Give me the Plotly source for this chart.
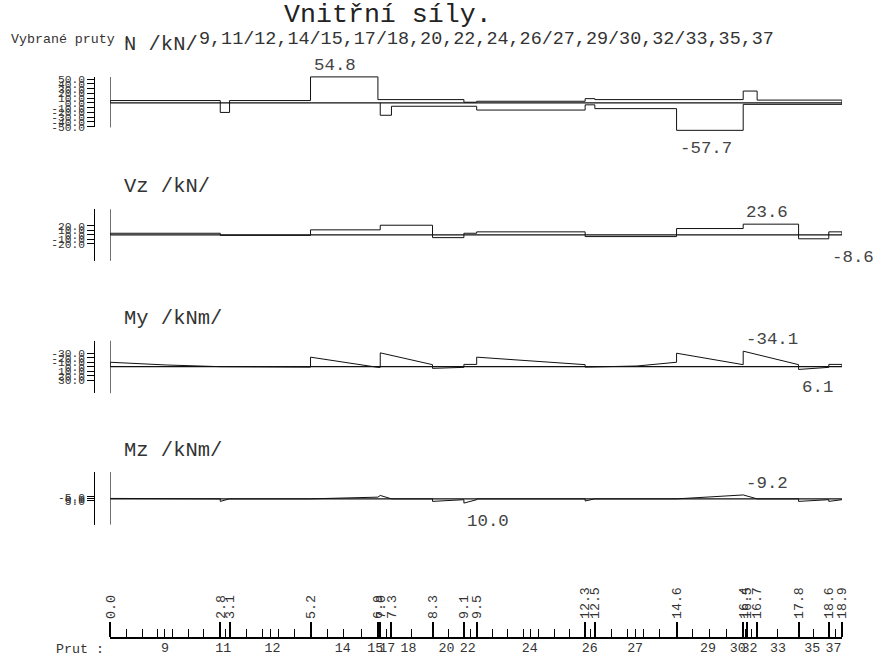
import plotly.graph_objects as go

# The captured picture is 873x656 while the page carries an 8px body margin, so the
# page region (873+16)x(656+16) is fitted into the picture.  All positions below are
# given in picture pixels and converted to figure coordinates.
PIC_W, PIC_H = 873, 656
MARG = 8
KX = PIC_W / (PIC_W + 2 * MARG)
KY = PIC_H / (PIC_H + 2 * MARG)
W, H = PIC_W + MARG, PIC_H + MARG
MONO = "Liberation Mono, Courier New, monospace"

# ---------------- data ----------------
# stations along the member chain [m] and their labels
stations = [0.0, 2.84, 3.08, 5.17, 6.91, 6.97, 7.26, 8.32, 9.13, 9.46, 12.26,
            12.51, 14.62, 16.34, 16.44, 16.70, 17.77, 18.55, 18.89]
station_labels = ["0.0", "2.8", "3.1", "5.2", "6.9", "7.0", "7.3", "8.3", "9.1", "9.5",
                  "12.3", "12.5", "14.6", "16.4", "16.5", "16.7", "17.8", "18.6", "18.9"]
# intermediate section points [m]
section_points = [0.41, 0.82, 1.21, 1.41, 1.62, 2.02, 2.42, 2.97, 3.51, 3.92, 4.13, 4.34,
                  4.76, 5.62, 6.03, 6.48, 7.13, 7.79, 8.74, 9.29, 9.86, 10.26, 10.66,
                  10.86, 11.06, 11.46, 11.86, 12.39, 12.93, 13.35, 13.56, 13.77, 14.19,
                  15.04, 15.48, 15.92, 16.39, 16.56, 17.23, 18.16, 18.72]
# member numbers and their positions [m]
members = ["9", "11", "12", "14", "15", "17", "18", "20", "22", "24", "26", "27",
           "29", "30", "32", "33", "35", "37"]
member_pos = [1.41, 2.92, 4.19, 6.0, 6.84, 7.15, 7.7, 8.68, 9.23, 10.83, 12.38, 13.55,
              15.43, 16.2, 16.5, 17.24, 18.12, 18.67]

# N /kN/ (two overlapping diagrams)
N_up_x = [0, 0, 2.84, 2.84, 3.08, 3.08, 5.17, 5.17, 6.91, 6.91, 9.13, 9.13, 9.46, 9.46,
          12.26, 12.26, 12.51, 12.51, 16.34, 16.34, 16.70, 16.70, 18.89, 18.89]
N_up_y = [0, 5, 5, -20, -20, 5, 5, 54.8, 54.8, 7, 7, 1.5, 1.5, 3.5, 3.5, 9, 9, 7, 7,
          25, 25, 6, 6, 0]
N_lo_x = [6.97, 6.97, 7.26, 7.26, 9.46, 9.46, 12.26, 12.26, 12.51, 12.51, 14.62, 14.62,
          16.34, 16.34, 18.89, 18.89]
N_lo_y = [0, -26, -26, -7, -7, -15, -15, -4, -4, -12, -12, -57.7, -57.7, -3, -3, 0]

# Vz /kN/
Vz_x = [0, 0, 2.84, 2.84, 5.17, 5.17, 6.97, 6.97, 8.32, 8.32, 9.13, 9.13, 9.46, 9.46,
        12.26, 12.26, 14.62, 14.62, 16.34, 16.34, 17.77, 17.77, 18.55, 18.55, 18.89, 18.89]
Vz_y = [0, 3.6, 3.6, -1, -1, 11.1, 11.1, 21.3, 21.3, -6, -6, 3.6, 3.6, 6.7, 6.7, -3.7,
        -3.7, 14, 14, 23.6, 23.6, -8.6, -8.6, 6.7, 6.7, 0]

# My /kNm/
My_x = [0, 0, 1.45, 2.84, 5.17, 5.17, 6.91, 6.97, 6.97, 8.32, 8.32, 9.13, 9.13, 9.46,
        9.46, 12.26, 12.26, 13.6, 14.62, 14.62, 16.34, 16.34, 17.77, 17.77, 18.55,
        18.55, 18.89, 18.89]
My_y = [0, -9.7, -3.7, 0, 1, -20.9, 1.5, 1.5, -30.4, -4.4, 3.7, 1.5, -5, -5, -20.9,
        -4.4, 1, -1.5, -9.7, -29.6, -4.4, -34.1, -4.4, 6.1, 1.5, -5, -5, 0]

# Mz /kNm/
Mz_x = [0, 2.84, 2.84, 3.08, 5.17, 6.91, 6.97, 7.26, 8.32, 8.32, 9.13, 9.13, 9.46,
        9.46, 12.26, 12.26, 12.51, 14.62, 15.2, 16.34, 16.70, 17.77, 17.77, 18.55,
        18.55, 18.89, 18.89]
Mz_y = [-1, 0, 6, 0, 0, -4, -8, 0, 0, 6, 2, 10, 2, 0, 0, 5, 0, 0, -3, -9.2, 0, 0, 6,
        2, 6, 2, 0]

# labelled extremes: (panel, x, value, side)
extremes = [("N", 5.17, 54.8, "up"), ("N", 14.62, -57.7, "down"),
            ("Vz", 16.34, 23.6, "up"), ("Vz", 18.55, -8.6, "down"),
            ("My", 16.34, -34.1, "up"), ("My", 17.77, 6.1, "down"),
            ("Mz", 16.34, -9.2, "up"), ("Mz", 9.13, 10.0, "down")]

# axis tick values per panel
N_ticks = [50, 40, 30, 20, 10, 0, -10, -20, -30, -40, -50]
Vz_ticks = [20, 10, 0, -10, -20]
My_ticks = [-30, -20, -10, 0, 10, 20, 30]
Mz_ticks = [-5, 0, 5]

# ---------------- layout geometry (picture pixels) ----------------
panels = {
    "N":  dict(title="N /kN/",   base=106.7, s=0.47, top=81,  bot=131, rev=False,
               ticks=N_ticks,  ty=49, ax="y",  dax="y5"),
    "Vz": dict(title="Vz /kN/",  base=237.3, s=0.45, top=212, bot=263, rev=False,
               ticks=Vz_ticks, ty=189, ax="y2", dax="y6"),
    "My": dict(title="My /kNm/", base=367.7, s=0.45, top=342, bot=394, rev=True,
               ticks=My_ticks, ty=320, ax="y3", dax="y7"),
    "Mz": dict(title="Mz /kNm/", base=498.5, s=0.42, top=472, bot=524, rev=True,
               ticks=Mz_ticks, ty=451, ax="y4", dax="y8"),
}
X0_PX, X1_PX = 111, 842
AXIS_Y_PX = 636
TOP_IMG = KY * MARG            # picture y of the figure's top edge
BOT_IMG = KY * (H + MARG)      # picture y of the figure's bottom edge


def px(x):
    return (x / KX - MARG) / W


def py(y):
    return 1 - (y / KY - MARG) / H


def fs(size):
    return size / KY


def value_range(p, top, bot):
    b, s = p["base"], p["s"]
    if p["rev"]:
        return [(bot - b) / s, (top - b) / s]
    return [(b - bot) / s, (b - top) / s]


fig = go.Figure()
LINE = dict(color="#111", width=1)

series = {"N": [(N_up_x, N_up_y), (N_lo_x, N_lo_y)],
          "Vz": [(Vz_x, Vz_y)], "My": [(My_x, My_y)], "Mz": [(Mz_x, Mz_y)]}

for key, p in panels.items():
    fig.add_trace(go.Scatter(x=[stations[0], stations[-1]], y=[0, 0], mode="lines",
                             line=dict(color="#111", width=1.2), yaxis=p["ax"],
                             showlegend=False, hoverinfo="skip"))
    for xs, ys in series[key]:
        fig.add_trace(go.Scatter(x=xs, y=ys, mode="lines", line=LINE, yaxis=p["ax"],
                                 showlegend=False, hoverinfo="skip"))
    fig.add_trace(go.Scatter(x=[None], y=[None], yaxis=p["dax"], showlegend=False,
                             hoverinfo="skip"))

fig.add_trace(go.Scatter(x=member_pos, y=[None] * len(member_pos), xaxis="x2",
                         showlegend=False, hoverinfo="skip"))

layout = dict(
    width=W, height=H, margin=dict(l=0, r=0, t=0, b=0),
    paper_bgcolor="white", plot_bgcolor="rgba(0,0,0,0)", showlegend=False,
    xaxis=dict(domain=[px(X0_PX), px(X1_PX)], range=[stations[0], stations[-1]],
               anchor="free", position=py(AXIS_Y_PX), side="top",
               showline=True, linecolor="black", linewidth=1.5,
               ticks="outside", ticklen=15.3, tickwidth=2, tickcolor="black",
               tickvals=stations, ticktext=station_labels, tickangle=-90,
               ticklabelstandoff=0,
               tickfont=dict(family=MONO, size=fs(13), color="#333"),
               minor=dict(tickvals=section_points, ticks="outside", ticklen=8.2,
                          tickwidth=1, tickcolor="black"),
               showgrid=False, zeroline=False, fixedrange=True),
    xaxis2=dict(overlaying="x", range=[stations[0], stations[-1]], anchor="free",
                position=py(AXIS_Y_PX), side="bottom", showline=False,
                ticks="", tickvals=member_pos, ticktext=members, tickangle=0,
                ticklabelstandoff=0,
                tickfont=dict(family=MONO, size=fs(13), color="#333"),
                showgrid=False, zeroline=False, fixedrange=True),
)

for key, p in panels.items():
    name = "yaxis" if p["ax"] == "y" else "yaxis" + p["ax"][1:]
    d = dict(range=value_range(p, TOP_IMG, BOT_IMG), visible=False, showgrid=False,
             zeroline=False, fixedrange=True)
    if p["ax"] == "y":
        d["domain"] = [0, 1]
    else:
        d["overlaying"] = "y"
    layout[name] = d
    dname = "yaxis" + p["dax"][1:]
    layout[dname] = dict(
        domain=[py(p["bot"]), py(p["top"])], range=value_range(p, p["top"], p["bot"]),
        anchor="free", position=px(95), side="left",
        showline=True, linecolor="black", linewidth=1,
        ticks="outside", ticklen=7, tickwidth=1, tickcolor="black",
        tickvals=p["ticks"], ticktext=[f"{v:.1f}" for v in p["ticks"]],
        tickfont=dict(family=MONO, size=fs(11), color="#333"),
        showgrid=False, zeroline=False, fixedrange=True)

fig.update_layout(**layout)

for key, p in panels.items():
    fig.add_shape(type="line", xref="x", x0=stations[0], x1=stations[0],
                  yref=p["dax"] + " domain", y0=0, y1=1,
                  line=dict(color="black", width=1))

ann = []
ann.append(dict(text="Vnitřní síly.", x=px(283), y=py(20), xref="paper", yref="paper",
                xanchor="left", yanchor="middle", showarrow=False,
                font=dict(family=MONO, size=fs(26), color="#222")))
ann.append(dict(text="Vybrané pruty :", x=px(10), y=py(44), xref="paper",
                yref="paper", xanchor="left", yanchor="middle", showarrow=False,
                font=dict(family=MONO, size=fs(13), color="#333")))
ann.append(dict(text="9,11/12,14/15,17/18,20,22,24,26/27,29/30,32/33,35,37",
                x=px(198), y=py(44), xref="paper", yref="paper", xanchor="left",
                yanchor="middle", showarrow=False,
                font=dict(family=MONO, size=fs(18), color="#333")))
for key, p in panels.items():
    ann.append(dict(text=p["title"], x=px(123), y=py(p["ty"]), xref="paper",
                    yref="paper", xanchor="left", yanchor="middle", showarrow=False,
                    font=dict(family=MONO, size=fs(20), color="#333")))
for key, xv, v, side in extremes:
    p = panels[key]
    ann.append(dict(text=f"{v:.1f}", x=xv, y=v, xref="x", yref=p["ax"],
                    xanchor="left", yanchor="bottom" if side == "up" else "top",
                    yshift=0 if side == "up" else -7, xshift=1, showarrow=False,
                    font=dict(family=MONO, size=fs(17), color="#444")))
ann.append(dict(text="Prut :", x=px(55), y=py(648), xref="paper", yref="paper",
                xanchor="left", yanchor="middle", showarrow=False,
                font=dict(family=MONO, size=fs(13), color="#333")))
fig.update_layout(annotations=ann)

fig.write_html("out.html")
